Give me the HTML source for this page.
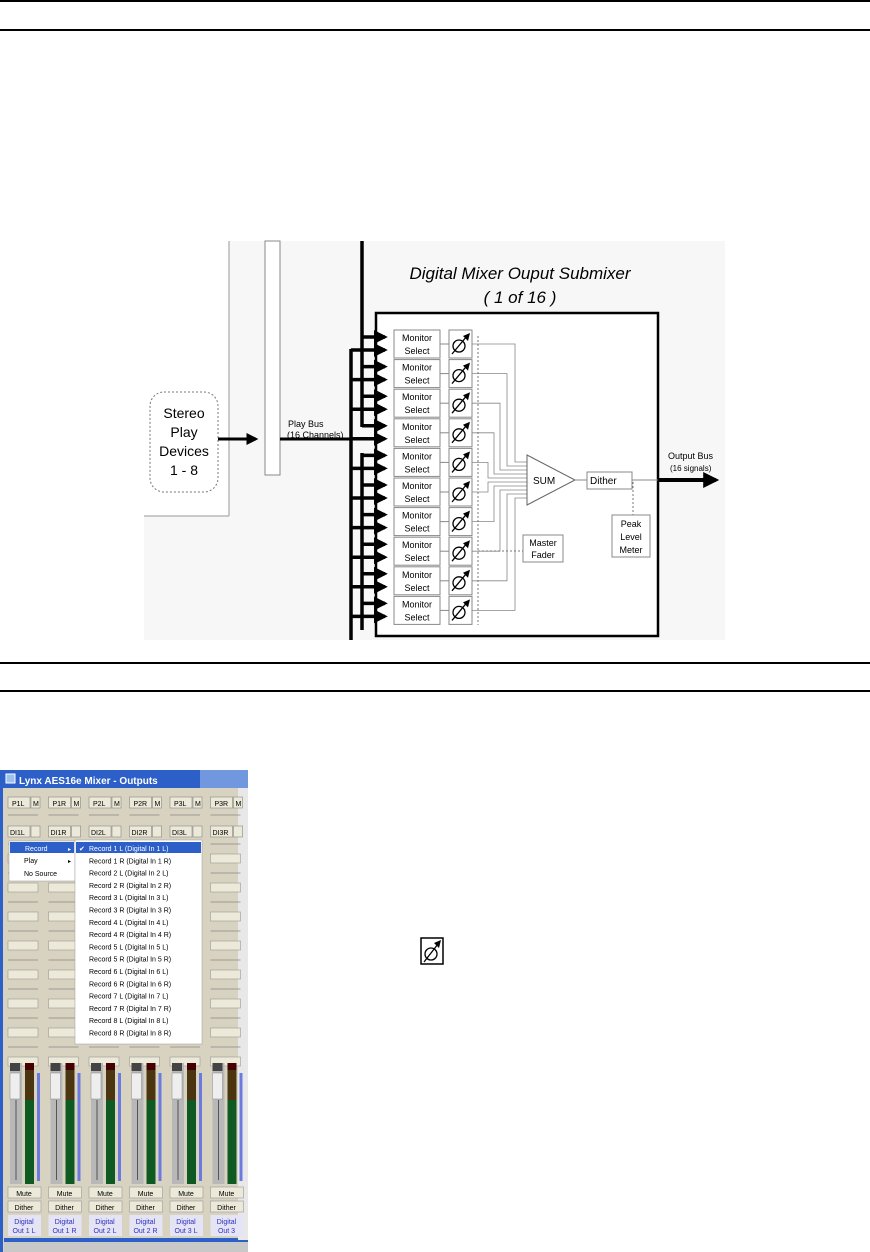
<!DOCTYPE html>
<html><head><meta charset="utf-8"><style>
html,body{margin:0;padding:0;background:#fff;width:870px;height:1252px;overflow:hidden;position:relative;font-family:"Liberation Sans",sans-serif}
.hr{position:absolute;left:0;width:870px;height:2px;background:#000}
</style></head><body>
<div class="hr" style="top:0px"></div>
<div class="hr" style="top:29px"></div>
<div class="hr" style="top:662px"></div>
<div class="hr" style="top:690px"></div>

<svg id="d" width="870" height="1252" style="position:absolute;left:0;top:0" xmlns="http://www.w3.org/2000/svg" font-family="Liberation Sans, sans-serif">
<defs>
<marker id="ah" markerWidth="4" markerHeight="4" refX="3.2" refY="2" orient="auto" markerUnits="strokeWidth"><path d="M0,0 L4,2 L0,4 z" fill="#000"/></marker>
<marker id="sh" markerWidth="6" markerHeight="6" refX="5" refY="3" orient="auto"><path d="M0,0 L6,3 L0,6 z" fill="#000"/></marker>
</defs>
<rect x="144" y="241" width="581" height="399" fill="#f7f7f7"/>
<rect x="144" y="241" width="85" height="275" fill="#fff"/>
<line x1="229" y1="241" x2="229" y2="516" stroke="#999" stroke-width="1"/>
<line x1="144" y1="516" x2="229" y2="516" stroke="#999" stroke-width="1"/>
<rect x="265" y="241" width="15" height="234" fill="#fff" stroke="#888" stroke-width="1"/>
<rect x="150" y="392" width="68" height="100" rx="14" fill="#fff" stroke="#777" stroke-dasharray="2,2"/>
<text x="184" y="418" font-size="14" text-anchor="middle">Stereo</text>
<text x="184" y="437" font-size="14" text-anchor="middle">Play</text>
<text x="184" y="456" font-size="14" text-anchor="middle">Devices</text>
<text x="184" y="475" font-size="14" text-anchor="middle">1 - 8</text>
<line x1="218" y1="439" x2="256" y2="439" stroke="#000" stroke-width="3" marker-end="url(#ah)"/>
<line x1="280" y1="439" x2="352" y2="439" stroke="#000" stroke-width="3"/>
<text x="288" y="427" font-size="9">Play Bus</text>
<text x="287" y="438" font-size="9">(16 Channels)</text>
<text x="520" y="279" font-size="17" font-style="italic" text-anchor="middle">Digital Mixer Ouput Submixer</text>
<text x="520" y="303" font-size="17" font-style="italic" text-anchor="middle">( 1 of 16 )</text>
<rect x="376" y="313" width="282" height="323" fill="#fff" stroke="#000" stroke-width="2.5"/>
<g id="rows"></g>
<polygon points="527,455 527,505 575,480" fill="#fff" stroke="#666"/>
<text x="533" y="484" font-size="10">SUM</text>
<line x1="575" y1="480" x2="587" y2="480" stroke="#888"/>
<rect x="587" y="472" width="45" height="17" fill="#fff" stroke="#888"/>
<text x="590" y="484" font-size="10">Dither</text>
<line x1="632" y1="480" x2="660" y2="480" stroke="#888"/>
<line x1="658" y1="480" x2="716" y2="480" stroke="#000" stroke-width="4" marker-end="url(#ah)"/>
<text x="668" y="459" font-size="9">Output Bus</text>
<text x="670" y="471" font-size="8">(16 signals)</text>
<line x1="633" y1="482" x2="633" y2="515" stroke="#777" stroke-dasharray="2,2"/>
<rect x="612" y="515" width="38" height="42" fill="#fff" stroke="#888"/>
<text x="631" y="527" font-size="9" text-anchor="middle">Peak</text>
<text x="631" y="540" font-size="9" text-anchor="middle">Level</text>
<text x="631" y="553" font-size="9" text-anchor="middle">Meter</text>
<rect x="523" y="535" width="40" height="27" fill="#fff" stroke="#888"/>
<text x="543" y="546" font-size="9" text-anchor="middle">Master</text>
<text x="543" y="558" font-size="9" text-anchor="middle">Fader</text>
<line x1="478" y1="336" x2="478" y2="625" stroke="#777" stroke-dasharray="2,2"/>
<line x1="478" y1="551" x2="523" y2="551" stroke="#777" stroke-dasharray="2,2"/>

<!-- icon -->
<rect x="421" y="938" width="22" height="26" fill="#fff" stroke="#000" stroke-width="1.5"/>
<circle cx="431" cy="954" r="6" fill="none" stroke="#000" stroke-width="1.3"/>
<line x1="424" y1="962" x2="438" y2="944" stroke="#000" stroke-width="1.3"/>
<path d="M441,940 L434,943 L439,948 z" fill="#000"/>

<!-- mixer window -->
<g id="win">
<rect x="0" y="770" width="248" height="482" fill="#d8d2c0"/>
<rect x="0" y="770" width="248" height="18" fill="#2d5fc8"/>
<rect x="200" y="770" width="48" height="18" fill="#8fb0e8" opacity="0.7"/>
<rect x="0" y="770" width="3" height="482" fill="#2d5fc8"/>
<rect x="6" y="774" width="9" height="9" fill="#9cc0f0" stroke="#fff"/>
<text x="19" y="784" font-size="10" font-weight="bold" fill="#fff">Lynx AES16e Mixer - Outputs</text>
<rect x="4" y="1238" width="244" height="4" fill="#2d5fc8"/>
<rect x="4" y="1242" width="244" height="10" fill="#c8c8c8"/>
<rect x="238" y="788" width="10" height="452" fill="#e8e8e8"/>
</g>
<g id="strips"></g>
<g id="menu">
<rect x="9" y="841" width="66" height="40" fill="#fff" stroke="#999" stroke-width="0.5"/>
<rect x="10" y="842" width="64" height="11" fill="#2d5fc8"/>
<text x="25" y="851" font-size="7" fill="#fff">Record</text>
<text x="68" y="851" font-size="6" fill="#fff">▸</text>
<text x="24" y="863" font-size="7">Play</text>
<text x="68" y="863" font-size="6">▸</text>
<text x="24" y="876" font-size="7">No Source</text>
<rect x="75" y="840" width="127" height="204" fill="#fff" stroke="#999" stroke-width="0.5"/>
<rect x="76" y="842" width="125" height="11" fill="#2d5fc8"/>
<g id="sub" font-size="7"></g>
</g>
</svg>
<script>
var ns="http://www.w3.org/2000/svg";
function el(p,t,a,tx){var e=document.createElementNS(ns,t);for(var k in a)e.setAttribute(k,a[k]);if(tx)e.textContent=tx;p.appendChild(e);return e;}
var g=document.getElementById('rows');
var ys=[];for(var i=0;i<10;i++)ys.push(330+i*29.6);
// buses
el(g,'line',{x1:362,y1:241,x2:362,y2:427,stroke:'#000','stroke-width':3.5});
el(g,'line',{x1:362,y1:453,x2:362,y2:630,stroke:'#000','stroke-width':3.5});
el(g,'line',{x1:351,y1:349,x2:351,y2:640,stroke:'#000','stroke-width':3.5});
var ins=[462,466,470,474,478,482,486,490,494,498];
var xs=[515,507,500,494,488,488,494,500,507,515];
for(var i=0;i<10;i++){var y=ys[i];
 var xa=(i<4)?362:(i==4?362:362);
 el(g,'line',{x1:362,y1:y+7,x2:385,y2:y+7,stroke:'#000','stroke-width':3.5,'marker-end':'url(#ah)'});
 el(g,'line',{x1:351,y1:y+20,x2:385,y2:y+20,stroke:'#000','stroke-width':3.5,'marker-end':'url(#ah)'});
 el(g,'rect',{x:394,y:y,width:46,height:28,fill:'#fff',stroke:'#888'});
 el(g,'text',{x:417,y:y+11,'font-size':9,'text-anchor':'middle'},'Monitor');
 el(g,'text',{x:417,y:y+24,'font-size':9,'text-anchor':'middle'},'Select');
 el(g,'line',{x1:440,y1:y+14,x2:449,y2:y+14,stroke:'#888'});
 el(g,'rect',{x:449,y:y,width:23,height:28,fill:'#fff',stroke:'#888'});
 el(g,'circle',{cx:459,cy:y+16,r:6,fill:'none',stroke:'#000','stroke-width':1.3});
 el(g,'line',{x1:452,y1:y+24,x2:467,y2:y+6,stroke:'#000','stroke-width':1.3});
 el(g,'path',{d:'M470,'+(y+3)+' L463,'+(y+6)+' L468,'+(y+11)+' z',fill:'#000'});
 var x=xs[i]+ (i<5?0:0);
 el(g,'polyline',{points:'472,'+(y+14)+' '+x+','+(y+14)+' '+x+','+ins[i]+' 527,'+ins[i],fill:'none',stroke:'#888','stroke-width':0.8});
}
// mixer strips
var s=document.getElementById('strips');
var names=['P1L','P1R','P2L','P2R','P3L','P3R'],dn=['DI1L','DI1R','DI2L','DI2R','DI3L','DI3R'],outs=[['Digital','Out 1 L'],['Digital','Out 1 R'],['Digital','Out 2 L'],['Digital','Out 2 R'],['Digital','Out 3 L'],['Digital','Out 3']];
for(var c=0;c<6;c++){var x0=4+c*40.5;
 el(s,'rect',{x:x0+4,y:797,width:22,height:11,fill:'#ece9d8',stroke:'#888','stroke-width':0.6});
 el(s,'text',{x:x0+8,y:806,'font-size':7},names[c]);
 el(s,'rect',{x:x0+27,y:797,width:9,height:11,fill:'#ece9d8',stroke:'#888','stroke-width':0.6});
 el(s,'text',{x:x0+29,y:806,'font-size':7},'M');
 el(s,'rect',{x:x0+4,y:826,width:22,height:11,fill:'#ece9d8',stroke:'#888','stroke-width':0.6});
 el(s,'text',{x:x0+6,y:835,'font-size':7},dn[c]);
 el(s,'rect',{x:x0+27,y:826,width:9,height:11,fill:'#ece9d8',stroke:'#888','stroke-width':0.6});
 for(var r=0;r<9;r++){var yy=815+r*29;
  el(s,'line',{x1:x0+4,y1:yy,x2:x0+34,y2:yy,stroke:'#888','stroke-width':0.7});
  if(r>0){el(s,'rect',{x:x0+4,y:yy+10,width:30,height:9,fill:'#ece9d8',stroke:'#999','stroke-width':0.6});}
 }
 el(s,'rect',{x:x0+6,y:1063,width:12,height:121,fill:'#b8b8b8'});
 el(s,'rect',{x:x0+6,y:1063,width:10,height:8,fill:'#444'});
 el(s,'rect',{x:x0+6,y:1073,width:10,height:26,fill:'#eee',stroke:'#888','stroke-width':0.5});
 el(s,'line',{x1:x0+12,y1:1100,x2:x0+12,y2:1180,stroke:'#555','stroke-width':1});
 el(s,'rect',{x:x0+21,y:1063,width:9,height:121,fill:'#0e5a22'});
 el(s,'rect',{x:x0+21,y:1063,width:9,height:7,fill:'#400'});
 el(s,'rect',{x:x0+21,y:1070,width:9,height:30,fill:'#4a3510'});
 el(s,'rect',{x:x0+33,y:1073,width:3,height:108,fill:'#6c7ae0'});
 el(s,'rect',{x:x0+4,y:1187,width:33,height:11,fill:'#ece9d8',stroke:'#999','stroke-width':0.6});
 el(s,'text',{x:x0+20,y:1196,'font-size':7,'text-anchor':'middle'},'Mute');
 el(s,'rect',{x:x0+4,y:1201,width:33,height:11,fill:'#ece9d8',stroke:'#999','stroke-width':0.6});
 el(s,'text',{x:x0+20,y:1210,'font-size':7,'text-anchor':'middle'},'Dither');
 el(s,'rect',{x:x0+4,y:1215,width:33,height:21,fill:'#e4e4f4'});
 el(s,'text',{x:x0+20,y:1224,'font-size':7,'text-anchor':'middle',fill:'#3030c0'},outs[c][0]);
 el(s,'text',{x:x0+20,y:1233,'font-size':7,'text-anchor':'middle',fill:'#3030c0'},outs[c][1]);
}
var sub=document.getElementById('sub');
var k=0;for(var n=1;n<=8;n++){['L','R'].forEach(function(side){var y=851+k*12.3;
 el(sub,'text',{x:89,y:y,fill:k==0?'#fff':'#000'},'Record '+n+' '+side+' (Digital In '+n+' '+side+')');k++;});}
el(sub,'text',{x:79,y:851,fill:'#fff'},'✔');
</script>
</body></html>
